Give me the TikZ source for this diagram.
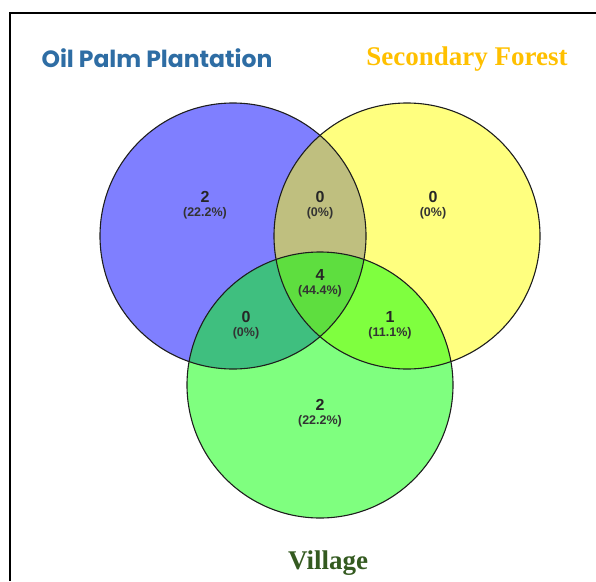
\documentclass[tikz,border=0pt]{standalone}
\usepackage{fontspec}
\setmainfont{Liberation Serif}
\setsansfont{Liberation Sans}
\newfontfamily\titlefont{Poppins}
\definecolor{opblue}{RGB}{46,109,164}
\definecolor{sfgold}{RGB}{255,192,0}
\definecolor{vilgreen}{RGB}{52,90,32}
\definecolor{setblue}{RGB}{0,0,255}
\definecolor{setyellow}{RGB}{255,255,0}
\definecolor{setgreen}{RGB}{0,255,0}
\definecolor{edge}{RGB}{30,30,30}
\begin{document}
\begin{tikzpicture}[x=1pt,y=-1pt,
  setfill/.style={fill opacity=0.5},
  setedge/.style={draw=edge,line width=1.1pt},
  cnt/.style={font=\sffamily\bfseries\fontsize{16}{16}\selectfont,inner sep=0pt,text=black!85},
  pct/.style={font=\sffamily\bfseries\fontsize{12.5}{12.5}\selectfont,inner sep=0pt,text=black!80},
  titleA/.style={font=\titlefont\bfseries\fontsize{23.5}{23.5}\selectfont,text=opblue,inner sep=0pt},
  titleB/.style={font=\rmfamily\bfseries\fontsize{27}{27}\selectfont,text=sfgold,inner sep=0pt},
  titleC/.style={font=\rmfamily\bfseries\fontsize{27}{27}\selectfont,text=vilgreen,inner sep=0pt},
  frameline/.style={line width=1.8pt,black}]
\useasboundingbox (0,0) rectangle (596,581);
% frame
\coordinate (fA) at (10,581);
\coordinate (fB) at (10,13);
\coordinate (fC) at (596,13);
\draw[frameline] (fA) -- (fB) -- (fC);
% circles
\coordinate (cb) at (233,236);
\coordinate (cy) at (407,236);
\coordinate (cg) at (320,385);
\fill[setblue,setfill] (cb) circle[radius=133pt];
\fill[setyellow,setfill] (cy) circle[radius=133pt];
\fill[setgreen,setfill] (cg) circle[radius=133pt];
\draw[setedge] (cb) circle[radius=133pt];
\draw[setedge] (cy) circle[radius=133pt];
\draw[setedge] (cg) circle[radius=133pt];
% titles
\node[titleA] (tA) at (157,58) {Oil Palm Plantation};
\node[titleB] (tB) at (467,59) {Secondary Forest};
\node[titleC] (tC) at (328,563) {Village};
% counts
\node[cnt] (n1) at (205,197) {2};
\node[pct] (p1) at (205,213) {(22.2\%)};
\node[cnt] (n2) at (320,197) {0};
\node[pct] (p2) at (320,213) {(0\%)};
\node[cnt] (n3) at (433,197) {0};
\node[pct] (p3) at (433,213) {(0\%)};
\node[cnt] (n4) at (320,275) {4};
\node[pct] (p4) at (320,291) {(44.4\%)};
\node[cnt] (n5) at (246,317) {0};
\node[pct] (p5) at (246,333) {(0\%)};
\node[cnt] (n6) at (390,317) {1};
\node[pct] (p6) at (390,333) {(11.1\%)};
\node[cnt] (n7) at (320,405) {2};
\node[pct] (p7) at (320,421) {(22.2\%)};
\end{tikzpicture}
\end{document}
